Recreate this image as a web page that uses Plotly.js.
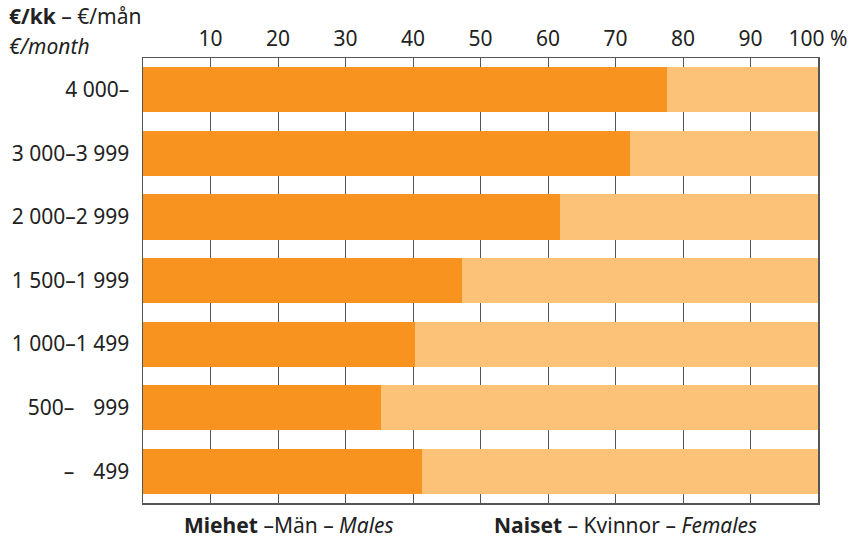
<!DOCTYPE html>
<html><head><meta charset="utf-8">
<script src="https://cdn.plot.ly/plotly-3.0.1.min.js"></script>
<style>body{margin:0;background:#fff}#c{width:857px;height:538px}</style>
</head><body><div id="c"></div>
<script>
const categories = ["4 000–", "3 000–3 999", "2 000–2 999", "1 500–1 999", "1 000–1 499", "500–\u2007\u2009\u2009999", "–\u2007\u2009\u2009499"];
const males = [77.7, 72.1, 61.8, 47.3, 40.3, 35.3, 41.4];
const females = males.map(v => 100 - v);
const tickVals = [10, 20, 30, 40, 50, 60, 70, 80, 90, 100];
const tickText = ["10", "20", "30", "40", "50", "60", "70", "80", "90", "100 %"];

const font = "Noto Sans, Open Sans, sans-serif";
const data = [
  {type: "bar", orientation: "h", y: categories, x: males, name: "Males",
   marker: {color: "#F7931E", line: {width: 0}}, hoverinfo: "x"},
  {type: "bar", orientation: "h", y: categories, x: females, name: "Females",
   marker: {color: "#FCC277", line: {width: 0}}, hoverinfo: "x"}
];
const layout = {
  width: 857, height: 538,
  margin: {l: 143, r: 39, t: 58, b: 35},
  barmode: "stack", bargap: 0.29,
  showlegend: false,
  paper_bgcolor: "#fff", plot_bgcolor: "#fff",
  font: {family: font, size: 21, color: "#222"},
  xaxis: {side: "top", range: [0, 100], tickvals: tickVals, ticktext: tickText,
    showgrid: true, gridcolor: "#555", gridwidth: 1, zeroline: false,
    showline: true, mirror: true, linecolor: "#555", linewidth: 1.5,
    ticks: "", ticklabelstandoff: 2, fixedrange: true, tickfont: {size: 21}},
  yaxis: {autorange: "reversed", type: "category", showgrid: false, zeroline: false,
    showline: true, mirror: true, linecolor: "#555", linewidth: 1.5,
    ticks: "", ticklabelstandoff: 8, fixedrange: true, tickfont: {size: 21}},
  annotations: [
    {xref: "paper", yref: "paper", x: -136/675, y: 1 + (58-16)/445, xanchor: "left", yanchor: "middle",
     text: "<b>€/kk</b> – €/mån", showarrow: false, font: {size: 21}},
    {xref: "paper", yref: "paper", x: -136/675, y: 1 + (58-46)/445, xanchor: "left", yanchor: "middle",
     text: "<i>€/month</i>", showarrow: false, font: {size: 21}},
    {xref: "paper", yref: "paper", x: (182-143)/675, y: -(525-503)/445, xanchor: "left", yanchor: "middle",
     text: "<b>Miehet</b> –Män – <i>Males</i>", showarrow: false, font: {size: 21}},
    {xref: "paper", yref: "paper", x: (492-143)/675, y: -(525-503)/445, xanchor: "left", yanchor: "middle",
     text: "<b>Naiset</b> – Kvinnor – <i>Females</i>", showarrow: false, font: {size: 21}}
  ]
};
Plotly.newPlot("c", data, layout, {displayModeBar: false, staticPlot: true});
</script></body></html>
